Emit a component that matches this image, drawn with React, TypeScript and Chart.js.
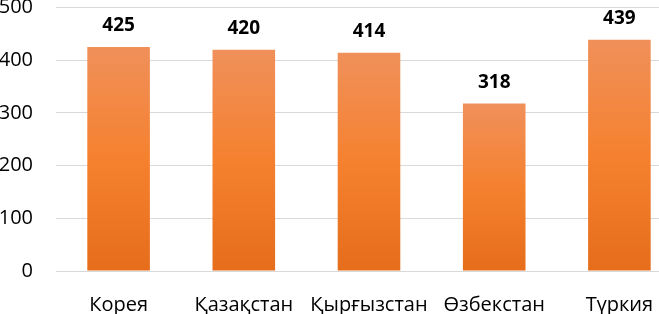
import React, { useEffect, useRef } from "react";
import { Chart, registerables } from "chart.js";

Chart.register(...registerables);

const categories = ["Корея", "Қазақстан", "Қырғызстан", "Өзбекстан", "Түркия"];
const values = [425, 420, 414, 318, 439];
const yTicks = [0, 100, 200, 300, 400, 500];

const FONT = "'Open Sans', 'Noto Sans', sans-serif";

const labelPlugin = {
  id: "barLabels",
  afterDatasetsDraw(chart: any) {
    const ctx = chart.ctx;
    const meta = chart.getDatasetMeta(0);
    ctx.save();
    ctx.font = `bold 19px ${FONT}`;
    ctx.fillStyle = "#000000";
    ctx.textAlign = "center";
    ctx.textBaseline = "middle";
    meta.data.forEach((bar: any, i: number) => {
      ctx.fillText(String(values[i]), bar.x, bar.y - 21);
    });
    ctx.restore();
  },
};

export default function App() {
  const ref = useRef<HTMLCanvasElement | null>(null);
  useEffect(() => {
    document.body.style.margin = "0";
    document.body.style.overflow = "hidden";
    const canvas = ref.current!;
    const chart = new Chart(canvas, {
      type: "bar",
      data: {
        labels: categories,
        datasets: [
          {
            data: values,
            barPercentage: 0.5,
            categoryPercentage: 1,
            backgroundColor: (c: any) => {
              const ch = c.chart;
              const y = ch.scales && ch.scales.y;
              if (!y || c.parsed == null || c.parsed.y == null) return "#F28034";
              const top = y.getPixelForValue(c.parsed.y);
              const bottom = y.getPixelForValue(0);
              if (!isFinite(top) || !isFinite(bottom)) return "#F28034";
              const g = ch.ctx.createLinearGradient(0, top, 0, bottom);
              g.addColorStop(0, "#F0905A");
              g.addColorStop(0.5, "#F5812F");
              g.addColorStop(1, "#E56D1B");
              return g;
            },
          },
        ],
      },
      options: {
        animation: false,
        responsive: false,
        maintainAspectRatio: false,
        layout: { autoPadding: false, padding: { top: 0, left: 0, right: 0, bottom: 0 } },
        plugins: { legend: { display: false }, tooltip: { enabled: false } },
        scales: {
          x: {
            grid: { display: false, drawTicks: false },
            border: { display: true, color: "#D9D9D9", width: 1 },
            afterFit: (axis: any) => {
              axis.height = 43;
            },
            ticks: {
              color: "#000000",
              font: { family: FONT, size: 20 },
              padding: 22,
              maxRotation: 0,
            },
          },
          y: {
            min: 0,
            max: 500,
            afterBuildTicks: (axis: any) => {
              axis.ticks = yTicks.map((v) => ({ value: v }));
            },
            afterFit: (axis: any) => {
              axis.width = 56;
              axis.paddingTop = 7.5;
              axis.paddingBottom = 0;
            },
            grid: { color: "#D9D9D9", drawTicks: false },
            border: { display: false },
            ticks: {
              color: "#000000",
              font: { family: FONT, size: 20 },
              padding: 23,
            },
          },
        },
      },
      plugins: [labelPlugin],
    });
    return () => chart.destroy();
  }, []);
  return (
    <div style={{ width: 682, height: 314 }}>
      <canvas ref={ref} width={682} height={314} style={{ display: "block" }} />
    </div>
  );
}
